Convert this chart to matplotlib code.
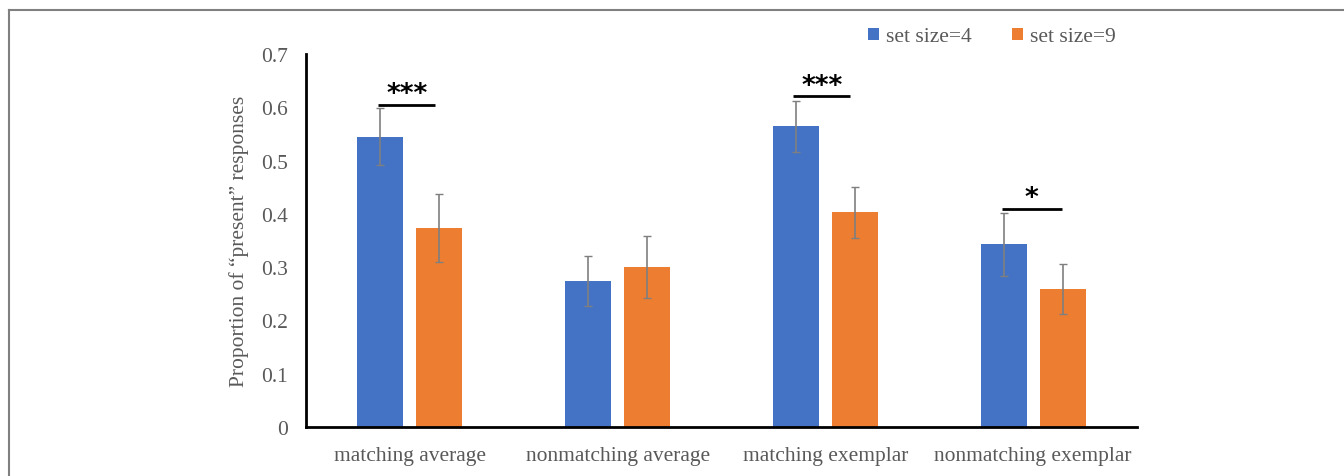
import matplotlib.pyplot as plt
import numpy as np

categories = ['matching average', 'nonmatching average', 'matching exemplar', 'nonmatching exemplar']
size4 = [0.545, 0.274, 0.564, 0.343]
size4_err = [0.053, 0.046, 0.047, 0.059]
size9 = [0.373, 0.300, 0.403, 0.259]
size9_err = [0.064, 0.058, 0.048, 0.047]
series_names = ['set size=4', 'set size=9']
sig_groups = [0, 2, 3]
sig_marks = ['***', '***', '*']
sig_heights = [0.605, 0.621, 0.409]

blue = '#4472C4'
orange = '#ED7D31'
grey_txt = '#595959'

plt.rcParams['font.family'] = ['Liberation Serif', 'DejaVu Serif']

fig = plt.figure(figsize=(13.44, 4.77), dpi=100)
ax = fig.add_axes([306/1344, 1-428/477, (1137-306)/1344, (428-55)/477])

x = np.arange(len(categories))
w = 0.221
off = 0.142
ax.bar(x - off, size4, w, color=blue, label=series_names[0], zorder=2)
ax.bar(x + off, size9, w, color=orange, label=series_names[1], zorder=2)
ax.errorbar(x - off, size4, yerr=size4_err, fmt='none', ecolor='#7f7f7f', elinewidth=1.2, capsize=3, capthick=1, zorder=3)
ax.errorbar(x + off, size9, yerr=size9_err, fmt='none', ecolor='#7f7f7f', elinewidth=1.2, capsize=3, capthick=1, zorder=3)

# significance bars
for g, m, h in zip(sig_groups, sig_marks, sig_heights):
    if m == '*':
        ax.plot([g - 0.149, g + 0.139], [h, h], color='black', lw=2, solid_capstyle='butt')
        ax.text(g - 0.01, h + 0.02, m, ha='center', va='center', fontsize=19, fontweight='bold', family='DejaVu Sans')
    else:
        ax.plot([g - 0.154, g + 0.12], [h, h], color='black', lw=2, solid_capstyle='butt')
        ax.text(g - 0.014, h + 0.019, m, ha='center', va='center', fontsize=19, fontweight='bold', family='DejaVu Sans')

ax.set_xlim(-0.5, 3.5)
ax.set_ylim(0, 0.7)
ax.set_yticks(np.arange(0, 0.71, 0.1))
ax.set_yticklabels(['0', '0.1', '0.2', '0.3', '0.4', '0.5', '0.6', '0.7'])
ax.set_xticks(x)
ax.set_xticklabels(categories)
ax.tick_params(length=0, labelsize=15.5, labelcolor=grey_txt)
ax.tick_params(axis='y', pad=13)
ax.tick_params(axis='x', pad=14)
ax.set_ylabel('Proportion of \u201cpresent\u201d responses', fontsize=15.5, color=grey_txt, labelpad=9)

for s in ['top', 'right']:
    ax.spines[s].set_visible(False)
for s in ['left', 'bottom']:
    ax.spines[s].set_linewidth(2)
    ax.spines[s].set_color('black')

fig.legend(loc='center', bbox_to_anchor=(992/1344, 1-38/477), ncol=2, frameon=False,
           fontsize=15.5, handlelength=0.5, handleheight=0.5, handletextpad=0.35,
           columnspacing=1.85, labelcolor=grey_txt)

# outer frame lines
fig.add_artist(plt.Line2D([9/1344, 1], [1-11/477, 1-11/477], color='#808080', lw=1.5))
fig.add_artist(plt.Line2D([9/1344, 9/1344], [0, 1-11/477], color='#808080', lw=1.5))

fig.savefig('out.png', dpi=100)
